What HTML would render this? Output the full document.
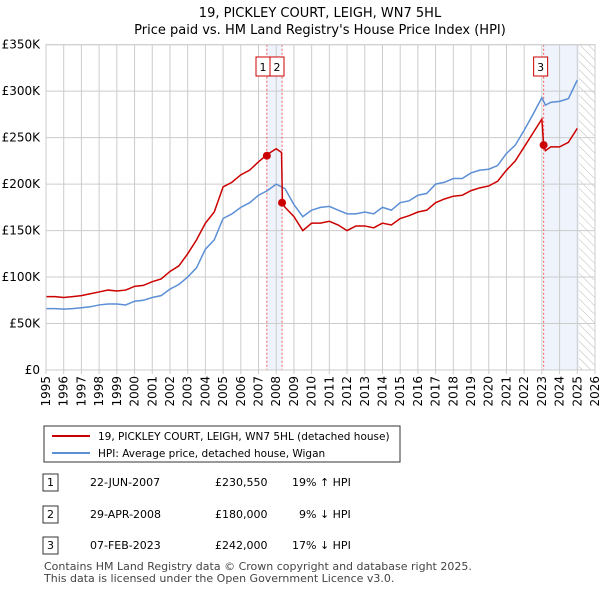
<!DOCTYPE html>
<html><head><meta charset="utf-8"><style>
body{margin:0;background:#fff;font-family:"Liberation Sans","DejaVu Sans",sans-serif;}
svg text{font-family:"DejaVu Sans","Liberation Sans",sans-serif;}
</style></head><body>
<svg id="c" width="600" height="590" xmlns="http://www.w3.org/2000/svg">
<text x="320" y="17" text-anchor="middle" font-size="13">19, PICKLEY COURT, LEIGH, WN7 5HL</text>
<text x="320" y="34" text-anchor="middle" font-size="13">Price paid vs. HM Land Registry's House Price Index (HPI)</text>
<defs><pattern id="hatch" width="6" height="6" patternUnits="userSpaceOnUse" patternTransform="rotate(-45)"><line x1="0" y1="0" x2="0" y2="6" stroke="#bbb" stroke-width="1"/></pattern></defs>
<g id="plot"></g>
<rect x="44" y="426" width="356" height="36" fill="#fff" stroke="#333"/>
<line x1="52" y1="436" x2="90" y2="436" stroke="#cc0000" stroke-width="2"/>
<text x="98" y="440" font-size="10.5">19, PICKLEY COURT, LEIGH, WN7 5HL (detached house)</text>
<line x1="52" y1="453" x2="90" y2="453" stroke="#5b8fd6" stroke-width="2"/>
<text x="98" y="457" font-size="10.5">HPI: Average price, detached house, Wigan</text>
<g font-size="11">
<rect x="43" y="474" width="15" height="17" fill="#fff" stroke="#333"/><text x="50.5" y="486" text-anchor="middle">1</text>
<text x="90" y="486">22-JUN-2007</text><text x="215" y="486">£230,550</text><text x="292" y="486">19% ↑ HPI</text>
<rect x="43" y="506" width="15" height="17" fill="#fff" stroke="#333"/><text x="50.5" y="518" text-anchor="middle">2</text>
<text x="90" y="518">29-APR-2008</text><text x="215" y="518">£180,000</text><text x="292" y="518">&#160;&#160;9% ↓ HPI</text>
<rect x="43" y="537" width="15" height="17" fill="#fff" stroke="#333"/><text x="50.5" y="549" text-anchor="middle">3</text>
<text x="90" y="549">07-FEB-2023</text><text x="215" y="549">£242,000</text><text x="292" y="549">17% ↓ HPI</text>
</g>
<text x="44" y="570" font-size="11" fill="#444">Contains HM Land Registry data © Crown copyright and database right 2025.</text>
<text x="44" y="582" font-size="11" fill="#444">This data is licensed under the Open Government Licence v3.0.</text>
</svg>
<script>
const yearTicks=[1995,1996,1997,1998,1999,2000,2001,2002,2003,2004,2005,2006,2007,2008,2009,2010,2011,2012,2013,2014,2015,2016,2017,2018,2019,2020,2021,2022,2023,2024,2025,2026];
const valueTicks=[0,50,100,150,200,250,300,350];
const valueLabels=["£0","£50K","£100K","£150K","£200K","£250K","£300K","£350K"];
const hpiYears=[1995,1995.5,1996,1996.5,1997,1997.5,1998,1998.5,1999,1999.5,2000,2000.5,2001,2001.5,2002,2002.5,2003,2003.5,2004,2004.5,2005,2005.5,2006,2006.5,2007,2007.5,2008,2008.5,2009,2009.5,2010,2010.5,2011,2011.5,2012,2012.5,2013,2013.5,2014,2014.5,2015,2015.5,2016,2016.5,2017,2017.5,2018,2018.5,2019,2019.5,2020,2020.5,2021,2021.5,2022,2022.5,2023,2023.2,2023.5,2024,2024.5,2025];
const hpiValues=[66,66,65.5,66,67,68,70,71,71,70,74,75,78,80,87,92,100,110,130,140,163,168,175,180,188,193,200,195,178,165,172,175,176,172,168,168,170,168,175,172,180,182,188,190,200,202,206,206,212,215,216,220,233,242,258,275,293,285,288,289,292,312];
const priceYears=[1995,1995.5,1996,1996.5,1997,1997.5,1998,1998.5,1999,1999.5,2000,2000.5,2001,2001.5,2002,2002.5,2003,2003.5,2004,2004.5,2005,2005.5,2006,2006.5,2007,2007.5,2008,2008.3,2008.35,2008.5,2009,2009.5,2010,2010.5,2011,2011.5,2012,2012.5,2013,2013.5,2014,2014.5,2015,2015.5,2016,2016.5,2017,2017.5,2018,2018.5,2019,2019.5,2020,2020.5,2021,2021.5,2022,2022.5,2023,2023.1,2023.2,2023.5,2024,2024.5,2025];
const priceValues=[79,79,78,79,80,82,84,86,85,86,90,91,95,98,106,112,125,140,158,170,197,202,210,215,224,232,238,234,180,175,165,150,158,158,160,156,150,155,155,153,158,156,163,166,170,172,180,184,187,188,193,196,198,203,215,225,240,255,270,242,236,240,240,245,260];
const saleYears=[2007.47,2008.33,2023.1];
const saleValues=[230.55,180,242];
const saleLabels=["1","2","3"];
const NS="http://www.w3.org/2000/svg";
const X0=46,X1=595,Y0=370,Y1=44.7;
function xs(y){return X0+(y-1995)/(2026-1995)*(X1-X0);}
function ys(v){return Y0-v/350*(Y0-Y1);}
const g=document.getElementById('plot');
function el(t,a){const e=document.createElementNS(NS,t);for(const k in a)e.setAttribute(k,a[k]);g.appendChild(e);return e;}
let e;
e=el('rect',{x:xs(saleYears[0]),y:Y1,width:xs(saleYears[1])-xs(saleYears[0]),height:Y0-Y1,fill:'#eef3fc'});


e=el('rect',{x:xs(saleYears[2]),y:Y1,width:xs(2025.1)-xs(saleYears[2]),height:Y0-Y1,fill:'#eef3fc'});


e=el('rect',{x:xs(2025.1),y:Y1,width:X1-xs(2025.1),height:Y0-Y1,fill:'url(#hatch)'});


yearTicks.forEach(y=>{
 e=el('line',{x1:xs(y),x2:xs(y),y1:Y1,y2:Y0+4,stroke:'#ccc'});
 
 
 e=el('text',{x:0,y:0,'font-size':12,'text-anchor':'end',transform:`translate(${xs(y)+4},${Y0+6}) rotate(-90)`});
 e.textContent=y;
 
 
});
valueTicks.forEach((v,i)=>{
 e=el('line',{x1:X0,x2:X1,y1:ys(v),y2:ys(v),stroke:'#ccc'});
 
 
 e=el('text',{x:X0-6,y:ys(v)+4,'font-size':12,'text-anchor':'end'});
 e.textContent=valueLabels[i];
 
 
});
saleYears.forEach((y,i)=>{
 e=el('line',{x1:xs(y),x2:xs(y),y1:Y1,y2:Y0,stroke:'#f06060','stroke-dasharray':'2,2'});
 
 
});
function line(xa,va,c,name){
 e=el('polyline',{points:xa.map((y,i)=>xs(y)+','+ys(va[i])).join(' '),fill:'none',stroke:c,'stroke-width':1.5});
 
 
}
line(hpiYears,hpiValues,'#5b8fd6','hpi-line');
line(priceYears,priceValues,'#cc0000','price-paid-line');
saleYears.forEach((y,i)=>{
 e=el('circle',{cx:xs(y),cy:ys(saleValues[i]),r:4,fill:'#cc0000'});
 
 
});
const boxX=[263,277,xs(saleYears[2])-3];
saleLabels.forEach((s,i)=>{
 e=el('rect',{x:boxX[i]-7,y:57,width:14,height:19,fill:'#fff',stroke:'#cc0000'});
 
 
 e=el('text',{x:boxX[i],y:71,'font-size':11,'text-anchor':'middle'});
 e.textContent=s;
 
 
});
e=el('rect',{x:X0,y:Y1,width:X1-X0,height:Y0-Y1,fill:'none',stroke:'#ccc'});


</script>
</body></html>
